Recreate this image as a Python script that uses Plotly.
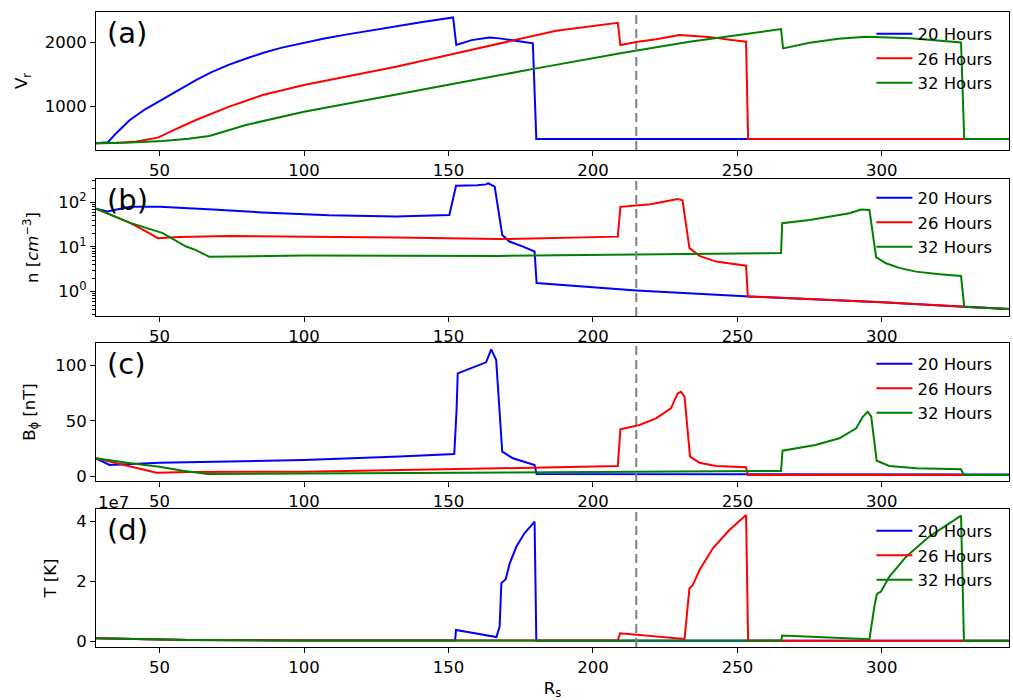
import plotly.graph_objects as go
from plotly.subplots import make_subplots

# ---------------- radial velocity V_r ----------------
vr_x_20 = [28, 32.1, 35, 39.6, 45, 50, 56, 62.6, 68, 74.1, 80, 85.7, 92, 100, 107, 114.5, 123,
           131.8, 141, 151.6, 152.7, 158, 164.2, 167.7, 174, 179.2, 180.4, 344]
vr_y_20 = [434, 450, 590, 790, 960, 1090, 1250, 1410, 1535, 1650, 1745, 1830, 1910, 1990, 2055,
           2115, 2180, 2240, 2310, 2380, 1954, 2030, 2072, 2057, 2020, 1980, 500, 500]

vr_x_26 = [28, 35, 42, 49.4, 56, 62.6, 74.1, 85.7, 100, 114.5, 131.8, 150, 170, 187.3, 208.6,
           209.5, 215, 221.9, 229.9, 240, 248, 253, 253.7, 344]
vr_y_26 = [434, 440, 460, 521, 660, 794, 1000, 1181, 1335, 1464, 1618, 1800, 2005, 2175, 2298,
           1954, 2000, 2042, 2108, 2080, 2030, 2005, 500, 500]

vr_x_32 = [28, 40, 51.1, 60, 67.2, 79.9, 100, 131.8, 150, 180.4, 210, 233.4, 250, 265.1,
           265.8, 275, 285, 294.5, 310, 320, 327.4, 328.5, 344]
vr_y_32 = [434, 445, 470, 505, 547, 717, 923, 1181, 1340, 1593, 1830, 2005, 2110, 2201,
           1902, 1990, 2050, 2082, 2060, 2020, 1995, 500, 500]

# ---------------- number density n ----------------
n_x_20 = [28, 32, 39.6, 50, 68.4, 85.7, 108.7, 131.8, 150.3, 152.6, 160, 163, 163.7, 166, 168.6,
          171.1, 176, 179.8, 180.5, 215, 254.2, 300, 328, 344]
n_y_20 = [72, 62, 79, 79, 69, 59, 51, 48, 52, 235, 240, 251, 266, 224, 18.6,
          13.2, 10, 7.9, 1.55, 1.06, 0.78, 0.58, 0.46, 0.41]

n_x_26 = [28, 39.6, 45, 49.4, 56.8, 74.1, 131.8, 167.6, 208.6, 209.5, 220, 227.6, 229.3, 231,
          233.4, 236.9, 242.6, 253, 253.6, 300, 328, 344]
n_y_26 = [72, 35, 23, 15.7, 16.7, 17.6, 16.2, 15, 17, 79, 90, 109, 118, 110,
          9.4, 6.3, 4.7, 3.8, 0.78, 0.58, 0.46, 0.41]

n_x_32 = [28, 39.6, 51.1, 54.6, 59.2, 62.6, 67.2, 100, 167, 265.1, 265.5, 275, 288.8, 292.8,
          295.7, 298, 301.4, 306, 311.8, 320, 327.4, 328.5, 344]
n_y_32 = [72, 35, 20.4, 14.9, 10.2, 8.5, 6.0, 6.4, 6.3, 7.3, 34, 40, 57, 69,
          67, 5.9, 4.3, 3.4, 2.8, 2.45, 2.24, 0.46, 0.41]

# ---------------- azimuthal field B_phi ----------------
b_x_20 = [28, 32.7, 50, 100, 133, 152, 152.8, 153.2, 163, 164.8, 166.5, 168.6, 172.3, 179.8,
          180.5, 344]
b_y_20 = [16.5, 10.5, 12.5, 15, 18, 20.3, 60, 92.5, 102.4, 114, 104.5, 22.4, 16.5, 10.5,
          2.4, 2.0]

b_x_26 = [28, 40.8, 49, 60, 100, 167.6, 208.6, 209.5, 216.1, 221.8, 227, 229.3, 230.5, 231.7,
          233.6, 236.9, 242.6, 253, 253.6, 344]
b_y_26 = [16.5, 9, 3.6, 4.2, 4.5, 7.5, 9.6, 42.4, 46.3, 52.2, 61.2, 74.6, 76, 71.6,
          17.9, 12.5, 9.6, 8.4, 1.5, 1.5]

b_x_32 = [28, 40, 50, 58, 66.7, 100, 167.6, 265.1, 265.6, 277, 285.3, 291.1, 293.4, 295.1,
          296.3, 298.2, 302.6, 311.8, 327.4, 328.4, 344]
b_y_32 = [16.5, 12, 9, 5.4, 2.4, 2.8, 3.6, 5.1, 23.3, 28.4, 34.4, 43.3, 53.7, 58.2,
          54, 14.3, 9.6, 7.5, 6.6, 1.5, 1.5]

# ---------------- temperature T ----------------
t_x_20 = [28, 40, 60, 100, 152.3, 152.6, 166.6, 167.7, 168.3, 169.8, 171.2, 173.5, 176.3, 179.8,
          180.4, 344]
t_y_20 = [0.11e7, 0.08e7, 0.05e7, 0.04e7, 0.035e7, 0.39e7, 0.15e7, 0.5e7, 1.95e7, 2.08e7,
          2.61e7, 3.17e7, 3.61e7, 4.0e7, 0.03e7, 0.03e7]

t_x_26 = [28, 40, 60, 100, 208.6, 209.4, 231.7, 233.4, 234.6, 236.9, 241.5, 247.2, 253,
          253.7, 344]
t_y_26 = [0.11e7, 0.08e7, 0.05e7, 0.04e7, 0.035e7, 0.28e7, 0.09e7, 1.78e7, 1.89e7, 2.39e7,
          3.11e7, 3.72e7, 4.22e7, 0.03e7, 0.03e7]

t_x_32 = [28, 40, 60, 100, 265.2, 265.5, 295.7, 297.4, 298.3, 299.7, 302.6, 308.4, 316.4,
          327.4, 328.4, 344]
t_y_32 = [0.11e7, 0.08e7, 0.05e7, 0.04e7, 0.035e7, 0.2e7, 0.08e7, 1.17e7, 1.59e7, 1.67e7,
          2.17e7, 2.83e7, 3.5e7, 4.2e7, 0.03e7, 0.03e7]

labels = ["20 Hours", "26 Hours", "32 Hours"]
colors = ["blue", "red", "green"]
x_ticks = [50, 100, 150, 200, 250, 300]
earth_r = 215  # 1 AU in solar radii

panels = [
    ((vr_x_20, vr_y_20), (vr_x_26, vr_y_26), (vr_x_32, vr_y_32)),
    ((n_x_20, n_y_20), (n_x_26, n_y_26), (n_x_32, n_y_32)),
    ((b_x_20, b_y_20), (b_x_26, b_y_26), (b_x_32, b_y_32)),
    ((t_x_20, t_y_20), (t_x_26, t_y_26), (t_x_32, t_y_32)),
]
panel_tags = ["(a)", "(b)", "(c)", "(d)"]
legend_ids = ["legend", "legend2", "legend3", "legend4"]

FONT = "DejaVu Sans"
FS = 16.5
fig = make_subplots(rows=4, cols=1)

for i, series in enumerate(panels):
    for (xs, ys), name, col in zip(series, labels, colors):
        fig.add_trace(
            go.Scatter(x=xs, y=ys, mode="lines", name=name,
                       line=dict(color=col, width=2),
                       legend=legend_ids[i], showlegend=True),
            row=i + 1, col=1)

domains = [[0.7827, 1.0], [0.5213, 0.737], [0.2614, 0.4787], [0.0, 0.2173]]
y_ranges = [[330, 2465], [-0.545, 2.52], [-3.85, 119.7], [-0.18e7, 4.42e7]]

axis_common = dict(showline=True, linecolor="black", linewidth=1, mirror=True,
                   ticks="outside", ticklen=5, tickwidth=1, tickcolor="black",
                   showgrid=False, zeroline=False,
                   tickfont=dict(family=FONT, size=FS, color="black"))

for i in range(4):
    xa = "xaxis" if i == 0 else f"xaxis{i + 1}"
    ya = "yaxis" if i == 0 else f"yaxis{i + 1}"
    fig.layout[xa].update(range=[28, 344], tickvals=x_ticks, **axis_common)
    fig.layout[ya].update(domain=domains[i], range=y_ranges[i], **axis_common)

fig.layout.yaxis.update(tickvals=[1000, 2000],
                        title=dict(text="V<sub>r</sub>", font=dict(family=FONT, size=FS),
                                   standoff=12))
fig.layout.yaxis2.update(type="log", tickvals=[1, 10, 100],
                         ticktext=["10<sup>0</sup>", "10<sup>1</sup>", "10<sup>2</sup>"],
                         minor=dict(ticks="outside", ticklen=3, tickcolor="black",
                                    tickvals=[0.3, 0.4, 0.5, 0.6, 0.7, 0.8, 0.9,
                                              2, 3, 4, 5, 6, 7, 8, 9,
                                              20, 30, 40, 50, 60, 70, 80, 90, 200, 300]),
                         title=dict(text="n [<i>cm</i><sup>−3</sup>]",
                                    font=dict(family=FONT, size=FS)))
fig.layout.yaxis3.update(tickvals=[0, 50, 100],
                         title=dict(text="B<sub>ϕ</sub> [nT]", font=dict(family=FONT, size=FS)))
fig.layout.yaxis4.update(tickvals=[0, 2e7, 4e7], ticktext=["0", "2", "4"],
                         title=dict(text="T [K]", font=dict(family=FONT, size=FS)))
fig.layout.xaxis4.update(title=dict(text="R<sub>s</sub>", font=dict(family=FONT, size=FS),
                                    standoff=6))

# vertical marker at 1 AU and panel tags
for i in range(4):
    suffix = "" if i == 0 else str(i + 1)
    fig.add_shape(type="line", x0=earth_r, x1=earth_r, y0=0, y1=1,
                  xref=f"x{suffix}", yref=f"y{suffix} domain",
                  line=dict(color="gray", width=2, dash="9px,5px"))
    fig.add_annotation(text=panel_tags[i], x=0.01, y=0.845,
                       xref=f"x{suffix} domain", yref=f"y{suffix} domain",
                       xanchor="left", yanchor="middle", showarrow=False,
                       font=dict(family=FONT, size=29, color="black"))

fig.add_annotation(text="1e7", x=0.0, y=0.2268, xref="paper", yref="paper",
                   xanchor="left", yanchor="middle", showarrow=False,
                   font=dict(family=FONT, size=FS, color="black"))

legend_style = dict(bgcolor="rgba(0,0,0,0)", borderwidth=0, xanchor="left", yanchor="top",
                    itemwidth=36,
                    font=dict(family=FONT, size=FS, color="black"))
legend_drop = [4.5, 1.5, 3.5, 4.5]  # px below each panel's top edge
for i, lid in enumerate(legend_ids):
    fig.layout[lid] = dict(x=0.8493, y=domains[i][1] - legend_drop[i] / 635, **legend_style)

fig.update_layout(width=1013, height=700,
                  margin=dict(l=96, r=4, t=12, b=53),
                  plot_bgcolor="white", paper_bgcolor="white",
                  font=dict(family=FONT, size=FS, color="black"))

fig.write_html("out.html")
